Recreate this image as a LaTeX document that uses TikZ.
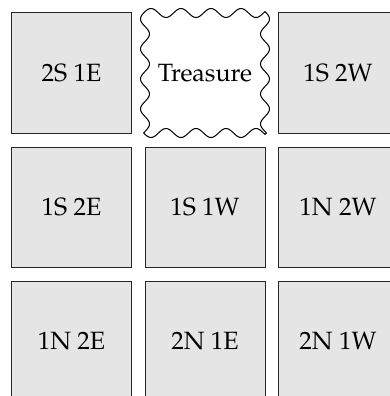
\documentclass[tikz,border=0pt]{standalone}
\usepackage[T1]{fontenc}
\usepackage{mathpazo}
\tikzset{
  cell/.style={draw=black!85, fill=black!10, line width=1pt, minimum size=120pt,
    inner sep=0pt, outer sep=0pt, font=\fontsize{25}{30}\selectfont},
  treasurebox/.style={minimum size=120pt, inner sep=0pt, outer sep=0pt,
    font=\fontsize{25}{30}\selectfont},
  wavy/.style={draw=black, line width=1pt, line join=round}
}
\begin{document}
\begin{tikzpicture}[x=1pt,y=-1pt]
\useasboundingbox (0,0) rectangle (389,396);
\node[cell] (a1) at (71.5,73) {2S 1E};
\node[treasurebox] (a2) at (205,73) {Treasure};
\draw[wavy]
  plot[domain=145:265,samples=121] (\x,{13-4.5*cos(12*(\x-151))})
  -- plot[domain=13:133,samples=121] ({265+4.5*cos(12*(\x-19))},\x)
  -- plot[domain=265:145,samples=121] (\x,{133+4.5*cos(12*(\x-151))})
  -- plot[domain=133:13,samples=121] ({145-4.5*cos(12*(\x-19))},\x)
  -- cycle;
\node[cell] (a3) at (338,73) {1S 2W};
\node[cell] (b1) at (71.5,207) {1S 2E};
\node[cell] (b2) at (205,207) {1S 1W};
\node[cell] (b3) at (338,207) {1N 2W};
\node[cell] (c1) at (71.5,341) {1N 2E};
\node[cell] (c2) at (205,341) {2N 1E};
\node[cell] (c3) at (338,341) {2N 1W};
\end{tikzpicture}
\end{document}
